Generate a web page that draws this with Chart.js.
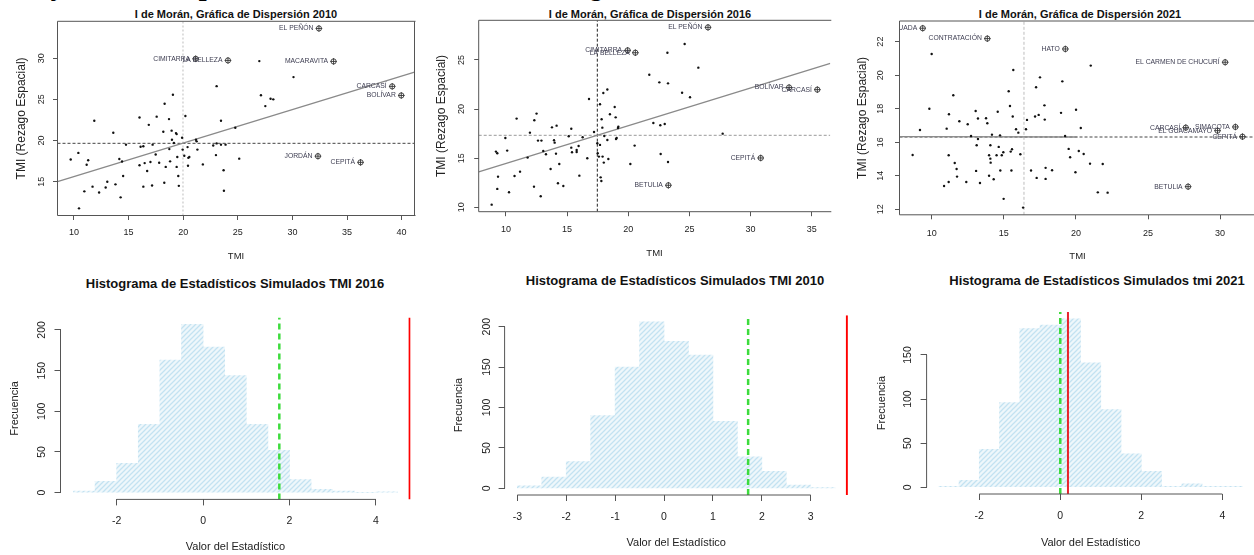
<!DOCTYPE html>
<html>
<head>
<meta charset="utf-8">
<script src="https://cdn.jsdelivr.net/npm/chart.js@4.4.1/dist/chart.umd.min.js"></script>
<style>
html, body { margin: 0; padding: 0; background: #fff; width: 1254px; height: 555px; overflow: hidden; }
canvas { position: absolute; }
.ttl { position: absolute; white-space: nowrap; transform: translate(-50%, -50%); color: #111;
       font-family: "Liberation Sans", Arial, sans-serif; font-weight: bold; }
.cut { position: absolute; top: -30px; white-space: nowrap; line-height: 28px;
       font: italic bold 28px "Liberation Serif", "Times New Roman", serif; color: #000; }
</style>
</head>
<body>
<!-- heading that sits above the visible area, only descenders show -->
<div class="cut" style="left:54px">y Estadísticos de Dis</div>
<div class="cut" style="left:201px">persión del Índice de Moran e Histo</div>
<div class="cut" style="left:592px">gramas</div>

<div class="ttl" style="left:236px;top:14px;font-size:11px">I de Morán, Gráfica de Dispersión 2010</div>
<div class="ttl" style="left:650px;top:14px;font-size:11px">I de Morán, Gráfica de Dispersión 2016</div>
<div class="ttl" style="left:1080px;top:14px;font-size:11px">I de Morán, Gráfica de Dispersión 2021</div>
<div class="ttl" style="left:235px;top:283px;font-size:13px">Histograma de Estadísticos Simulados TMI 2016</div>
<div class="ttl" style="left:675px;top:280px;font-size:13px">Histograma de Estadísticos Simulados TMI 2010</div>
<div class="ttl" style="left:1097px;top:280px;font-size:13px">Histograma de Estadísticos Simulados tmi 2021</div>

<canvas id="s2010" width="420" height="270" style="left:0;top:0;width:420px;height:270px"></canvas>
<canvas id="s2016" width="412" height="270" style="left:420px;top:0;width:412px;height:270px"></canvas>
<canvas id="s2021" width="420" height="270" style="left:840px;top:0;width:420px;height:270px"></canvas>
<canvas id="h2016" width="420" height="285" style="left:0;top:270px;width:420px;height:285px"></canvas>
<canvas id="h2010" width="432" height="285" style="left:420px;top:270px;width:432px;height:285px"></canvas>
<canvas id="h2021" width="408" height="285" style="left:852px;top:270px;width:408px;height:285px"></canvas>

<script>
// ---- scatter 2010 (TMI vs rezago espacial)
const tmi2010 = [9.7,10.46,10.4,10.95,11.16,11.3,11.86,11.7,12.3,13.05,12.9,13.6,13.8,14.15,14.27,14.4,14.5,14.76,16.0,16.0,
  16.1,16.35,16.35,16.47,16.7,16.85,17.0,17.15,17.2,17.48,17.57,17.8,18.18,18.3,18.27,18.4,18.7,18.73,18.8,18.94,
  18.97,19.06,19.15,19.34,19.4,19.46,19.4,19.55,19.6,19.9,19.95,20.1,20.2,20.4,20.47,20.44,20.56,21.17,21.23,21.3,
  21.8,22.75,23.0,23.06,23.06,23.46,23.46,23.7,23.73,23.88,24.77,25.13,26.97,27.12,27.52,28.0,28.25,30.1]
const lag2010 = [17.7,11.77,18.5,13.83,17.06,17.6,22.4,14.4,13.7,15.0,14.3,20.94,14.68,17.75,13.1,17.46,15.7,19.5,22.8,17.0,
  19.25,19.3,14.4,17.26,16.3,21.9,17.4,14.55,19.5,18.3,22.9,17.3,21.07,24.46,14.88,16.8,22.6,18.96,17.47,21.2,
  20.1,25.55,19.7,20.9,20.78,18.0,16.8,15.7,14.5,20.33,18.9,18.15,22.97,19.2,17.9,16.94,18.0,20.1,19.9,18.9,
  17.1,19.4,18.23,26.6,19.65,22.4,19.5,16.4,13.9,19.5,21.55,17.8,29.64,25.5,24.18,25.07,25.0,27.7]
const names2010 = ['EL PEÑÓN','CIMITARRA','LA BELLEZA','MACARAVITA','CARCASÍ','BOLÍVAR','JORDÁN','CEPITÁ']
const outX2010 = [32.43,21.14,24.1,33.77,39.14,39.97,32.34,36.24]
const outY2010 = [33.6,29.92,29.72,29.6,26.57,25.47,18.1,17.35]
const fit2010 = [[8.49,15.0],[41.18,28.3]]
const mean2010 = [19.98,19.66]
const xTicks2010 = [10,15,20,25,30,35,40]
const yTicks2010 = [15,20,25,30]

// ---- scatter 2016
const tmi2016 = [8.83,9.18,9.29,9.35,9.29,9.95,10.1,10.25,10.7,10.87,11.15,11.77,11.96,12.29,12.32,12.5,12.62,12.9,12.84,13.05,
  13.27,13.65,13.76,13.93,13.98,14.09,14.14,14.25,14.36,14.69,15.13,15.34,15.34,15.4,15.78,15.78,15.94,16.0,16.27,16.79,
  16.65,17.2,17.47,17.5,17.6,17.69,17.69,17.74,17.8,17.82,17.88,17.96,17.9,18.0,18.04,18.29,18.29,18.37,18.5,18.89,
  18.97,19.0,19.05,19.16,19.19,20.17,20.52,21.72,22.05,22.54,22.62,22.65,22.98,23.2,23.25,23.25,24.4,24.61,25.05,25.73,27.72]
const lag2016 = [10.27,15.67,15.5,13.12,11.87,17.06,15.77,11.53,13.19,19.03,13.63,15.06,17.6,12.1,18.86,19.54,16.79,16.79,11.12,15.73,
  15.4,13.9,18.14,16.82,16.58,15.46,18.31,12.44,14.4,12.17,17.23,18.0,16.07,15.6,15.84,15.63,16.24,13.22,17.13,21.03,
  15.0,17.67,16.52,15.5,15.16,20.49,16.35,13.05,12.68,18.96,18.11,21.64,15.16,14.55,17.26,22.0,16.85,14.92,19.47,20.21,
  19.16,16.96,17.06,18.08,18.21,14.41,16.28,23.5,18.58,22.72,18.35,15.43,18.48,25.74,22.62,14.61,21.67,26.63,21.2,24.22,17.5]
const names2016 = ['EL PEÑÓN','CIMITARRA','LA BELLEZA','BOLÍVAR','CARCASÍ','CEPITÁ','BETULIA']
const outX2016 = [26.52,19.95,20.58,33.15,35.46,30.83,23.28]
const outY2016 = [28.32,25.98,25.74,22.2,21.98,15.02,12.24]
const fit2016 = [[7.77,13.6],[36.52,24.65]]
const mean2016 = [17.47,17.33]
const xTicks2016 = [10,15,20,25,30,35]
const yTicks2016 = [10,15,20,25]

// ---- scatter 2021
const tmi2021 = [8.68,9.19,9.84,10.0,10.86,11.04,11.18,11.18,11.2,11.5,11.6,11.73,11.76,11.92,12.4,12.5,12.73,13.05,13.08,13.12,
  13.21,13.21,13.35,13.77,13.86,13.98,13.98,14.07,14.07,14.09,14.18,14.3,14.5,14.58,14.65,14.74,14.76,14.86,14.97,14.99,
  15.34,15.43,15.48,15.53,15.57,15.62,15.66,15.85,16.01,16.15,16.34,16.54,16.61,16.89,17.24,17.17,17.28,17.42,17.51,17.82,
  17.84,17.9,17.9,18.35,18.97,19.06,19.25,19.5,19.6,19.97,20.01,20.2,20.34,20.54,20.98,21.03,21.52,21.86,22.2]
const lag2021 = [15.24,16.73,18.0,21.26,13.39,16.81,13.63,15.22,17.67,18.8,14.76,14.4,13.95,17.25,13.63,17.07,16.37,17.86,14.29,15.82,
  17.41,16.19,13.57,17.43,17.13,15.22,14.0,15.82,15.02,14.78,16.45,13.79,15.22,17.82,15.72,16.41,14.31,15.22,15.4,12.62,
  19.04,18.16,15.44,14.31,15.58,17.53,20.31,16.77,16.57,15.28,12.1,16.77,17.33,14.31,19.28,17.53,13.87,17.63,19.87,18.2,
  17.35,14.47,13.81,14.33,17.75,19.63,16.37,15.6,15.1,14.21,17.94,15.48,16.85,15.3,14.72,20.57,13.01,14.7,12.99]
const names2021 = ['AGUADA','CONTRATACIÓN','HATO','EL CARMEN DE CHUCURÍ','CARCASÍ','SIMACOTA','EL GUACAMAYO','CEPITÁ','BETULIA']
const outX2021 = [9.38,13.86,19.27,30.35,27.62,31.06,29.82,31.55,27.78]
const outY2021 = [22.8,22.18,21.56,20.77,16.87,16.91,16.69,16.33,13.35]
const fit2021 = [[7.77,16.33],[20.1,16.31]]
const mean2021 = [16.4,16.31]
const xTicks2021 = [10,15,20,25,30]
const yTicks2021 = [12,14,16,18,20,22]

// ---- histograms of simulated statistics (bins of width 0.5)
const binStart2016 = [-3,-2.5,-2,-1.5,-1,-0.5,0,0.5,1,1.5,2,2.5,3,3.5,4]
const freq2016 = [2,14,36,84,163,207,179,144,84,52,16,4,2,0,1]
const binStart2010 = [-3,-2.5,-2,-1.5,-1,-0.5,0,0.5,1,1.5,2,2.5,3]
const freq2010 = [3,14,33,90,150,206,182,165,83,39,21,4,1]
const binStart2021 = [-3,-2.5,-2,-1.5,-1,-0.5,0,0.5,1,1.5,2,2.5,3,3.5,4]
const freq2021 = [1,8,43,96,180,184,191,141,88,38,18,1,4,1,1]
// [dashed green, solid red]
const marks2016 = [1.764, 4.78]
const marks2010 = [1.72, 3.74]
const marks2021 = [0.0, 0.19]
const histXTicks2016 = [-2,0,2,4]
const histXTicks2010 = [-3,-2,-1,0,1,2,3]
const histXTicks2021 = [-2,0,2,4]
const histYTicks2016 = [0,50,100,150,200]
const histYTicks2010 = [0,50,100,150,200]
const histYTicks2021 = [0,50,100,150]

const SANS = '"Liberation Sans", Arial, Helvetica, sans-serif'
const INK = '#222'
Chart.defaults.font.family = SANS

const pts = (xs, ys) => xs.map((x, i) => ({ x, y: ys[i] }))

const hatch = (() => {
  const c = document.createElement('canvas')
  c.width = 5; c.height = 5
  const g = c.getContext('2d')
  g.fillStyle = '#eef7fb'
  g.fillRect(0, 0, 5, 5)
  g.strokeStyle = '#c3e2f1'
  g.lineWidth = 1.3
  g.beginPath()
  g.moveTo(-1, 6); g.lineTo(6, -1)
  g.moveTo(-1, 1); g.lineTo(1, -1)
  g.moveTo(4, 6); g.lineTo(6, 4)
  g.stroke()
  return g.createPattern(c, 'repeat')
})()

function xAxis(p) {
  const lh = p.font * 1.2, tlh = p.titleFont * 1.2
  return {
    type: 'linear', position: 'bottom', bounds: 'data', offset: false, min: p.xMin, max: p.xMax,
    afterBuildTicks: s => { s.ticks = p.xTicks.map(v => ({ value: v })) },
    afterFit: s => { s.height = p.H - p.area[3]; s.paddingLeft = 0; s.paddingRight = 0 },
    ticks: { autoSkip: false, minRotation: 0, maxRotation: 0, color: INK, font: { size: p.font },
             padding: p.tickY - p.tl - lh / 2, callback: v => String(v) },
    grid: { display: true, offset: false, drawOnChartArea: false, drawTicks: true, tickLength: p.tl, color: '#555', lineWidth: 1 },
    border: { display: false },
    title: { display: true, text: p.xText, color: INK, font: { size: p.titleFont },
             padding: { top: 0, bottom: p.H - p.xTitleY - tlh / 2 } }
  }
}

function yAxis(p) {
  const widest = String(p.yTicks[p.yTicks.length - 1]).length * 0.556 * p.font
  const tlh = p.yTitleFont * 1.2
  return {
    type: 'linear', position: 'left', bounds: 'data', min: p.yMin, max: p.yMax,
    afterBuildTicks: s => { s.ticks = p.yTicks.map(v => ({ value: v })) },
    afterFit: s => { s.width = p.area[0]; s.paddingTop = 0; s.paddingBottom = 0 },
    ticks: { autoSkip: false, minRotation: 90, maxRotation: 90, crossAlign: 'center', color: INK,
             font: { size: p.font }, padding: p.tickX - p.tl - widest / 2, callback: v => String(v) },
    grid: { display: true, drawOnChartArea: false, drawTicks: true, tickLength: p.tl, color: '#555', lineWidth: 1 },
    border: { display: false },
    title: { display: true, text: p.yText, color: INK, font: { size: p.yTitleFont },
             padding: { top: p.yTitleX - tlh / 2, bottom: 0 } }
  }
}

function baseOptions(p) {
  return {
    responsive: false, animation: false, events: [],
    layout: { autoPadding: false, padding: { left: 0, top: p.area[1], right: p.W - p.area[2], bottom: 0 } },
    plugins: { legend: { display: false }, tooltip: { enabled: false } },
    scales: { x: xAxis(p), y: yAxis(p) }
  }
}

// box around the scatter plot region (right side only when it is not cropped)
function boxPlugin(right) {
  return {
    id: 'box',
    afterDraw(chart) {
      const { ctx, chartArea: a } = chart
      ctx.save()
      ctx.strokeStyle = '#555'
      ctx.lineWidth = 1
      ctx.beginPath()
      ctx.moveTo(a.right + 1, a.top); ctx.lineTo(a.left, a.top); ctx.lineTo(a.left, a.bottom); ctx.lineTo(a.right + 1, a.bottom)
      if (right) { ctx.moveTo(a.right, a.top); ctx.lineTo(a.right, a.bottom) }
      ctx.stroke()
      ctx.restore()
    }
  }
}

// R style axis lines that run only from the first to the last tick
const axisLines = {
  id: 'axisLines',
  afterDraw(chart) {
    const { ctx, chartArea: a, scales: { x, y } } = chart
    const xt = x.ticks, yt = y.ticks
    ctx.save()
    ctx.strokeStyle = '#555'
    ctx.lineWidth = 1
    ctx.beginPath()
    ctx.moveTo(x.getPixelForValue(xt[0].value), a.bottom)
    ctx.lineTo(x.getPixelForValue(xt[xt.length - 1].value), a.bottom)
    ctx.moveTo(a.left, y.getPixelForValue(yt[0].value))
    ctx.lineTo(a.left, y.getPixelForValue(yt[yt.length - 1].value))
    ctx.stroke()
    ctx.restore()
  }
}

// municipality names to the left of the highlighted points, clipped to the plot region
function namePlugin(list) {
  return {
    id: 'names',
    afterDatasetsDraw(chart) {
      const { ctx, chartArea: a } = chart
      const meta = chart.getDatasetMeta(1)
      ctx.save()
      ctx.beginPath()
      ctx.rect(a.left, a.top, a.right - a.left, a.bottom - a.top)
      ctx.clip()
      ctx.font = '6.8px ' + SANS
      ctx.fillStyle = '#3c3c50'
      ctx.textAlign = 'right'
      ctx.textBaseline = 'middle'
      meta.data.forEach((el, i) => ctx.fillText(list[i], el.x - 5.5, el.y))
      ctx.restore()
    }
  }
}

function scatterChart(id, p) {
  const lineSet = (data, color, dash, width) => ({
    data, showLine: true, pointRadius: 0, borderColor: color, borderDash: dash, borderWidth: width, tension: 0
  })
  const out = pts(p.outX, p.outY)
  const datasets = [
    { data: pts(p.xs, p.ys), pointRadius: 1.2, pointBackgroundColor: '#111', pointBorderWidth: 0, borderColor: '#111' },
    { data: out, pointStyle: 'circle', pointRadius: 2.6, pointBorderWidth: 0.9,
      pointBorderColor: '#333', pointBackgroundColor: 'rgba(0,0,0,0)', borderColor: '#333' },
    { data: out, pointStyle: 'cross', pointRadius: 3.3, pointBorderWidth: 0.9, pointBorderColor: '#333', borderColor: '#333' },
    lineSet(p.fit.map(([x, y]) => ({ x, y })), '#8a8a8a', [], 1.3),
    lineSet([{ x: p.mean[0], y: p.yMin }, { x: p.mean[0], y: p.yMax }], p.vColor, p.vDash, 1),
    lineSet([{ x: p.xMin, y: p.mean[1] }, { x: p.xMax, y: p.mean[1] }], p.hColor, p.hDash, 1)
  ]
  return new Chart(document.getElementById(id), {
    type: 'scatter',
    data: { datasets },
    options: baseOptions(p),
    plugins: [boxPlugin(p.right), namePlugin(p.names)]
  })
}

function histChart(id, p) {
  const vline = (x, color, dash, width) => ({
    type: 'line', data: [{ x, y: p.yMin }, { x, y: p.yMax }], pointRadius: 0,
    borderColor: color, borderDash: dash, borderWidth: width
  })
  return new Chart(document.getElementById(id), {
    type: 'bar',
    data: {
      datasets: [
        vline(p.marks[1], p.redColor, [], 2),
        vline(p.marks[0], '#3cdc3c', [6, 4], 2.5),
        { type: 'bar', data: p.bins.map((b, i) => ({ x: b + 0.25, y: p.freq[i] })), backgroundColor: hatch,
          borderWidth: 0, barPercentage: 1, categoryPercentage: 1 }
      ]
    },
    options: baseOptions(p),
    plugins: [axisLines]
  })
}

const scatterText = { font: 9, titleFont: 9.5, yTitleFont: 12, tl: 4.5, xText: 'TMI', yText: 'TMI (Rezago Espacial)' }
const histText = { font: 10.5, titleFont: 11, yTitleFont: 11, tl: 6, xText: 'Valor del Estadístico', yText: 'Frecuencia' }

scatterChart('s2010', Object.assign({}, scatterText, {
  W: 420, H: 270, area: [57.5, 21.3, 414.5, 215.5], xMin: 8.49, xMax: 41.18, yMin: 10.9, yMax: 34.47,
  xTicks: xTicks2010, yTicks: yTicks2010, tickY: 17.5, tickX: 15.5, xTitleY: 256, yTitleX: 22,
  xs: tmi2010, ys: lag2010, outX: outX2010, outY: outY2010, names: names2010, fit: fit2010, mean: mean2010,
  vColor: '#bdbdbd', vDash: [2, 2], hColor: '#444', hDash: [3, 2], right: true
}))

scatterChart('s2016', Object.assign({}, scatterText, {
  W: 412, H: 270, area: [58.7, 20.3, 410.3, 211.7], xMin: 7.77, xMax: 36.52, yMin: 9.55, yMax: 29.04,
  xTicks: xTicks2016, yTicks: yTicks2016, tickY: 18.3, tickX: 17, xTitleY: 253.3, yTitleX: 21.7,
  xs: tmi2016, ys: lag2016, outX: outX2016, outY: outY2016, names: names2016, fit: fit2016, mean: mean2016,
  vColor: '#222', vDash: [3, 2], hColor: '#999', hDash: [3, 2], right: false
}))

scatterChart('s2021', Object.assign({}, scatterText, {
  W: 420, H: 270, area: [59.5, 21.0, 415.6, 214.8], xMin: 7.77, xMax: 32.46, yMin: 11.67, yMax: 23.23,
  xTicks: xTicks2021, yTicks: yTicks2021, tickY: 18.5, tickX: 19, xTitleY: 256, yTitleX: 22.7,
  xs: tmi2021, ys: lag2021, outX: outX2021, outY: outY2021, names: names2021, fit: fit2021, mean: mean2021,
  vColor: '#bdbdbd', vDash: [3, 2], hColor: '#444', hDash: [3, 2], right: false
}))

histChart('h2016', Object.assign({}, histText, {
  W: 420, H: 285, area: [60.5, 47.5, 410.5, 229.4], xMin: -3.3, xMax: 4.8, yMin: -8.28, yMax: 215.3,
  xTicks: histXTicks2016, yTicks: histYTicks2016, tickY: 21.3, tickX: 18.5, xTitleY: 277, yTitleX: 15,
  bins: binStart2016, freq: freq2016, marks: marks2016, redColor: '#ff0000'
}))

histChart('h2010', Object.assign({}, histText, {
  W: 432, H: 285, area: [84.6, 45.2, 427.9, 225], xMin: -3.26, xMax: 3.76, yMin: -8.24, yMax: 214.2,
  xTicks: histXTicks2010, yTicks: histYTicks2010, tickY: 21.7, tickX: 17.9, xTitleY: 273.3, yTitleX: 39.3,
  bins: binStart2010, freq: freq2010, marks: marks2010, redColor: '#ff0000'
}))

histChart('h2021', Object.assign({}, histText, {
  W: 408, H: 285, area: [74.6, 42.1, 402.7, 224], xMin: -3.3, xMax: 4.8, yMin: -7.64, yMax: 198.64,
  xTicks: histXTicks2021, yTicks: histYTicks2021, tickY: 22, tickX: 18.3, xTitleY: 272.7, yTitleX: 29.7,
  bins: binStart2021, freq: freq2021, marks: marks2021, redColor: '#e8242c'
}))
</script>
</body>
</html>
